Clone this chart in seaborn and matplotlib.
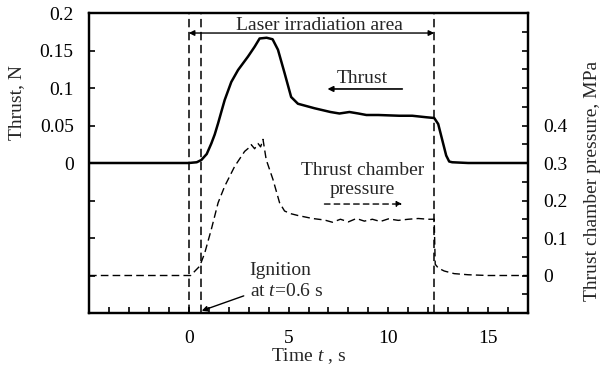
import numpy as np
import pandas as pd
import matplotlib
matplotlib.use("Agg")
import matplotlib.pyplot as plt
import seaborn as sns

# ---- data ----
thrust_time = [-5, 0, 0.4, 0.63, 0.9, 1.13, 1.3, 1.47, 1.65, 1.8, 2.13, 2.47, 2.97, 3.3,
               3.55, 3.9, 4.2, 4.47, 4.8, 5.13, 5.47, 6.3, 7.1, 7.55, 8.05, 8.5, 8.9,
               9.5, 10.55, 11.2, 11.9, 12.3, 12.5, 12.7, 12.9, 13.05, 13.2, 14, 17]
thrust_n = [0, 0, 0.001, 0.004, 0.012, 0.026, 0.038, 0.053, 0.07, 0.084, 0.108, 0.124,
            0.142, 0.155, 0.166, 0.167, 0.165, 0.151, 0.12, 0.088, 0.079, 0.073, 0.068,
            0.066, 0.068, 0.066, 0.064, 0.064, 0.063, 0.063, 0.061, 0.060, 0.052, 0.031,
            0.010, 0.002, 0.001, 0, 0]

pressure_time = [-5, 0.1, 0.22, 0.55, 0.8, 1.13, 1.47, 1.8, 2.3, 2.8, 3.0, 3.13, 3.3,
                 3.47, 3.6, 3.72, 3.88, 4.22, 4.55, 4.8, 5.1, 5.47, 6.2, 6.8, 7.2, 7.6,
                 8.0, 8.4, 8.8, 9.2, 9.6, 10.0, 10.5, 11.0, 11.5, 12.0, 12.3, 12.35,
                 12.5, 12.8, 13.3, 14, 15, 17]
pressure_mpa = [0, 0, 0.007, 0.025, 0.06, 0.123, 0.194, 0.238, 0.291, 0.331, 0.34, 0.349,
                0.338, 0.352, 0.343, 0.363, 0.309, 0.256, 0.194, 0.172, 0.165, 0.16,
                0.152, 0.148, 0.142, 0.15, 0.143, 0.152, 0.145, 0.15, 0.144, 0.151,
                0.147, 0.15, 0.152, 0.15, 0.15, 0.03, 0.02, 0.012, 0.005, 0.002, 0, 0]

marker_times = [0, 0.6, 12.3]          # laser on, ignition, laser off

time_ticks = list(range(-5, 18))
time_tick_labels = ["0" if t == 0 else (str(t) if t in (5, 10, 15) else "") for t in time_ticks]
thrust_ticks = [-0.2, -0.15, -0.1, -0.05, 0, 0.05, 0.1, 0.15, 0.2]
thrust_tick_labels = ["", "", "", "", "0", "0.05", "0.1", "0.15", "0.2"]
pressure_ticks = [-0.1, -0.05, 0, 0.05, 0.1, 0.15, 0.2, 0.25, 0.3, 0.35, 0.4, 0.45,
                  0.5, 0.55, 0.6, 0.65, 0.7]
pressure_tick_labels = ["", "", "0", "", "0.1", "", "0.2", "", "0.3", "", "0.4",
                        "", "", "", "", "", ""]

# ---- style ----
sns.set_theme(style="ticks")
plt.rcParams["font.family"] = ["Liberation Serif", "DejaVu Serif"]
plt.rcParams["mathtext.fontset"] = "custom"
plt.rcParams["mathtext.rm"] = "Liberation Serif"
plt.rcParams["mathtext.it"] = "Liberation Serif:italic"
plt.rcParams["font.size"] = 14

FS = 14
DASH = (0, (5.5, 3))

fig = plt.figure(figsize=(6, 3.67), dpi=100)
ax = fig.add_axes([89 / 600, 1 - 313 / 367, 439 / 600, 300 / 367])

df_t = pd.DataFrame({"time": thrust_time, "thrust": thrust_n})
df_p = pd.DataFrame({"time": pressure_time, "pressure": pressure_mpa})

sns.lineplot(data=df_t, x="time", y="thrust", ax=ax, color="black", lw=1.8,
             estimator=None, sort=False)
ax2 = ax.twinx()
sns.lineplot(data=df_p, x="time", y="pressure", ax=ax2, color="black", lw=1.0,
             linestyle=DASH, estimator=None, sort=False)

for t in marker_times:
    ax.axvline(t, color="black", lw=1.1, linestyle=DASH)

ax.set_xlim(-5, 17)
ax.set_ylim(-0.2, 0.2)
ax2.set_ylim(-0.1, 0.7)

ax.set_xticks(time_ticks)
ax.set_xticklabels(time_tick_labels, fontsize=FS)
ax.set_yticks(thrust_ticks)
ax.set_yticklabels(thrust_tick_labels, fontsize=FS)
ax2.set_yticks(pressure_ticks)
ax2.set_yticklabels(pressure_tick_labels, fontsize=FS)

ax.tick_params(axis="both", direction="in", length=4, width=1.2, pad=11, colors="black")
ax.tick_params(axis="x", pad=12)
ax.tick_params(right=False, top=False)
ax2.tick_params(axis="y", direction="in", length=4, width=1.2, pad=11, colors="black")

for a in (ax, ax2):
    for s in a.spines.values():
        s.set_linewidth(1.6)
        s.set_color("black")
        s.set_visible(True)

ax.set_xlabel("Time $t$ , s", fontsize=FS, labelpad=0)
ax.set_ylabel("Thrust, N", fontsize=FS)
ax.yaxis.set_label_coords(-0.145, 0.703)
ax2.set_ylabel("Thrust chamber pressure, MPa", fontsize=FS)
ax2.yaxis.set_label_coords(1.127, 0.44)

# ---- annotations (thrust-axis data coordinates) ----
ax.annotate("", xy=(marker_times[0], 0.1733), xytext=(marker_times[2], 0.1733),
            arrowprops=dict(arrowstyle="<|-|>", color="black", lw=1.0,
                            mutation_scale=8, shrinkA=0, shrinkB=0))
ax.text(6.55, 0.184, "Laser irradiation area", fontsize=FS, ha="center", va="center")

ax.text(8.7, 0.1133, "Thrust", fontsize=FS, ha="center", va="center")
ax.annotate("", xy=(6.95, 0.0987), xytext=(10.7, 0.0987),
            arrowprops=dict(arrowstyle="-|>", color="black", lw=1.2,
                            mutation_scale=8, shrinkA=0, shrinkB=0))

ax.text(8.7, -0.0227, "Thrust chamber\npressure", fontsize=FS, ha="center",
        va="center", linespacing=1.15)
ax.annotate("", xy=(10.7, -0.0547), xytext=(6.8, -0.0547),
            arrowprops=dict(arrowstyle="-|>", color="black", lw=1.0,
                            linestyle=(0, (4, 3)), mutation_scale=8,
                            shrinkA=0, shrinkB=0))

ax.annotate("Ignition\nat $t$=0.6 s", xy=(0.65, -0.197), xytext=(3.05, -0.157),
            fontsize=FS, ha="left", va="center", linespacing=1.3,
            arrowprops=dict(arrowstyle="-|>", color="black", lw=1.0,
                            mutation_scale=8, shrinkA=2, shrinkB=0))

fig.savefig("out.png", dpi=100)
